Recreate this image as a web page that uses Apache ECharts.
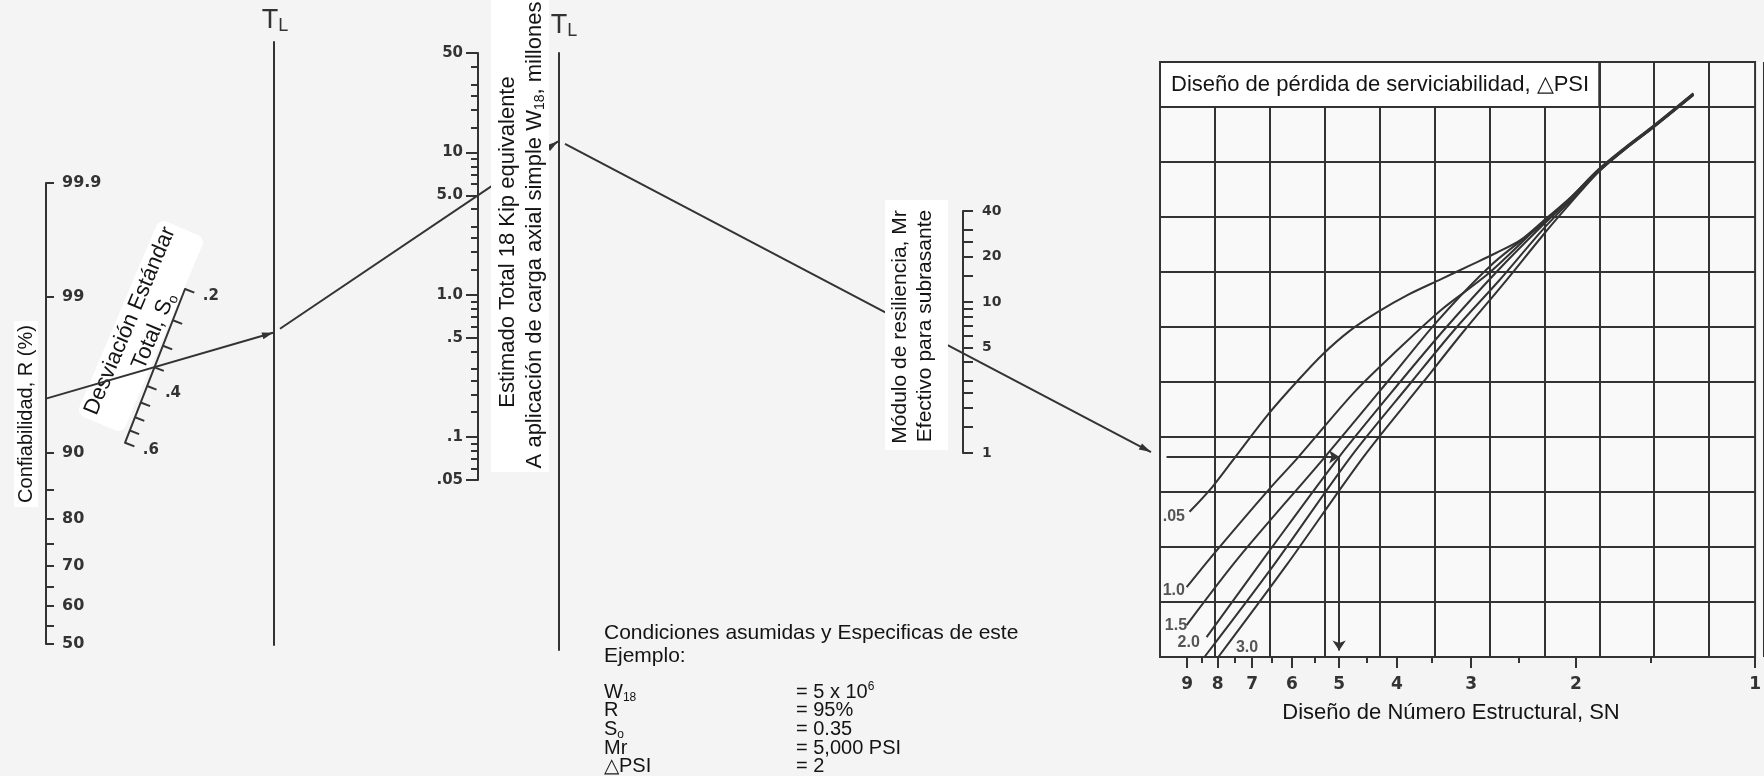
<!DOCTYPE html>
<html>
<head>
<meta charset="utf-8">
<title>Nomograma AASHTO</title>
<script src="https://cdn.jsdelivr.net/npm/echarts@6.0.0/dist/echarts.min.js"></script>
<style>
html,body{margin:0;padding:0;background:#f4f4f4;}
#chart{width:1764px;height:776px;}
</style>
</head>
<body>
<div id="chart"></div>
<script>
// ================= DATA =================
// Confiabilidad, R (%)
const rTicks = [50, 55, 60, 65, 70, 75, 80, 85, 90, 99, 99.9];
const rLabels = [50, 60, 70, 80, 90, 99, 99.9];
const rLabelText = ['50', '60', '70', '80', '90', '99', '99.9'];
// Desviación estándar total, So
const soTicks = [0.2, 0.25, 0.3, 0.35, 0.4, 0.45, 0.5, 0.55, 0.6];
const soLabels = [0.2, 0.4, 0.6];
const soLabelText = ['.2', '.4', '.6'];
// W18 (millones)
const w18Ticks = [0.05, 0.06, 0.07, 0.08, 0.09, 0.1, 0.15, 0.2, 0.25, 0.3, 0.4, 0.5, 0.6, 0.7, 0.8, 0.9,
                  1, 1.5, 2, 2.5, 3, 4, 5, 6, 7, 8, 9, 10, 15, 20, 25, 30, 40, 50];
const w18Labels = [0.05, 0.1, 0.5, 1, 5, 10, 50];
const w18LabelText = ['.05', '.1', '.5', '1.0', '5.0', '10', '50'];
// Mr (ksi)
const mrTicks = [1, 1.5, 2, 2.5, 3, 4, 5, 6, 7, 8, 9, 10, 15, 20, 25, 30, 40];
const mrLabels = [1, 5, 10, 20, 40];
const mrLabelText = ['1', '5', '10', '20', '40'];
// Número estructural SN
const snLabels = [1, 2, 3, 4, 5, 6, 7, 8, 9];
const snMinorTicks = [1.5, 2.5, 3.5, 4.5, 5.5, 6.5, 7.5, 8.5];
// Curvas ΔPSI : [SN, nivel de la retícula]
const psiNames = ['.05', '1.0', '1.5', '2.0', '2.5', '3.0'];
const psi05 = [[8.92,2.64],[8.17,3.09],[7.36,3.73],[6.57,4.42],[5.85,5.04],[5.32,5.51],[4.80,5.93],[4.31,6.27],[3.84,6.58],[3.37,6.87],[3.00,7.13],[2.72,7.35],[2.48,7.58],[2.28,7.91],[2.04,8.36],[1.84,8.85],[1.66,9.25],[1.49,9.64],[1.27,10.25]];
const psi10 = [[9.02,1.27],[8.10,1.89],[6.57,3.04],[5.85,3.64],[4.71,4.82],[3.99,5.58],[3.37,6.31],[2.80,6.98],[2.28,7.89],[2.04,8.35],[1.84,8.84],[1.66,9.24],[1.49,9.63],[1.27,10.24]];
const psi15 = [[9.02,0.58],[7.36,1.82],[5.28,3.64],[4.15,5.00],[3.43,6.09],[2.78,7.12],[2.28,7.87],[2.04,8.34],[1.84,8.83],[1.66,9.23],[1.49,9.62],[1.27,10.23]];
const psi20 = [[8.35,0.36],[6.57,1.91],[5.00,3.64],[3.95,5.00],[3.30,6.00],[2.72,7.00],[2.28,7.84],[2.04,8.33],[1.84,8.82],[1.66,9.22],[1.49,9.61],[1.27,10.22]];
const psi25 = [[8.42,0.00],[6.44,1.67],[4.78,3.64],[3.78,5.00],[3.20,5.95],[2.69,6.85],[2.27,7.78],[2.04,8.30],[1.84,8.81],[1.66,9.22],[1.49,9.61],[1.27,10.22]];
const psi30 = [[7.98,0.00],[6.13,1.67],[4.55,3.64],[3.61,5.00],[3.10,5.90],[2.65,6.78],[2.26,7.70],[2.04,8.26],[1.84,8.80],[1.66,9.22],[1.49,9.62],[1.27,10.22]];
// Posición de las etiquetas de las curvas [SN, nivel]
const psiLabelPos = [[9.48,2.56],[9.48,1.21],[9.40,0.58],[8.95,0.26],null,[7.14,0.18]];
// Ejemplo
const exR = 95, exSo = 0.35, exW18 = 5, exMr = 5, exPSI = 2, exSN = 5, exLevel = 3.64, exStartSN = 9.75;

// ================= HELPERS =================
const lg = Math.log10;
function normCdf(z) {
  const x = Math.abs(z) / Math.SQRT2, t = 1 / (1 + 0.3275911 * x);
  const e = 1 - t * (0.254829592 + t * (-0.284496736 + t * (1.421413741 + t * (-1.453152027 + t * 1.061405429)))) * Math.exp(-x * x);
  return z >= 0 ? 0.5 * (1 + e) : 0.5 * (1 - e);
}
function zOf(p) {
  let lo = -5, hi = 5;
  for (let i = 0; i < 60; i++) { const m = (lo + hi) / 2; if (normCdf(m) < p / 100) lo = m; else hi = m; }
  return (lo + hi) / 2;
}
function labeller(vals, texts) {
  return function (v) {
    let bi = 0, bd = Infinity;
    vals.forEach((x, i) => { const d = Math.abs(x - v); if (d < bd) { bd = d; bi = i; } });
    return texts[bi];
  };
}

const C = '#333333';
const TXT = '#141414';
const scaleFont = { fontFamily: 'DejaVu Sans', fontWeight: 'bold', color: C };
const lineSt = { color: C, width: 2 };
const hiddenX = (g) => ({ gridIndex: g, type: 'value', min: 0, max: 1, show: false });
const plainLine = (g) => ({ gridIndex: g, type: 'value', min: 0, max: 1, position: 'left',
  axisLine: { show: true, lineStyle: lineSt }, axisTick: { show: false }, axisLabel: { show: false }, splitLine: { show: false } });

const rZ = rTicks.map(zOf), rLZ = rLabels.map(zOf);
const snGridMax = 10.818;

const curveSets = [psi05, psi10, psi15, psi20, psi25, psi30];
const curveSeries = curveSets.map((arr, i) => ({
  type: 'line', name: psiNames[i], xAxisIndex: 5, yAxisIndex: 6,
  data: arr.map(p => [lg(p[0]), p[1]]),
  smooth: 0.3, symbol: 'none', silent: true, z: 3,
  lineStyle: { color: C, width: 2 }
}));
const labelData = [];
psiLabelPos.forEach((p, i) => {
  if (p) labelData.push({ value: [lg(p[0]), p[1]], name: psiNames[i] });
});

const option = {
  backgroundColor: '#f4f4f4',
  animation: false,
  textStyle: { fontFamily: 'Liberation Sans' },
  grid: [
    { left: 46, top: 183, width: 1, height: 461 },
    { left: 274, top: 42, width: 1, height: 603 },
    { left: 478, top: 53, width: 1, height: 427 },
    { left: 559, top: 53, width: 1, height: 597 },
    { left: 963, top: 211, width: 1, height: 242 },
    { left: 1160, top: 62, width: 602, height: 595, show: true, borderColor: C, borderWidth: 2 },
    { left: 1160, top: 62, width: 608, height: 595, show: false }
  ],
  xAxis: [
    hiddenX(0), hiddenX(1), hiddenX(2), hiddenX(3), hiddenX(4),
    { gridIndex: 5, type: 'value', min: 0, max: 1, inverse: true, position: 'bottom',
      axisLine: { show: false },
      axisTick: { show: true, length: 11, customValues: snLabels.map(lg), lineStyle: lineSt },
      axisLabel: { show: true, margin: 19, customValues: snLabels.map(lg), formatter: labeller(snLabels.map(lg), snLabels.map(String)), fontSize: 17, ...scaleFont },
      splitLine: { show: false } },
    { gridIndex: 5, type: 'value', min: 0, max: 1, inverse: true, position: 'bottom',
      axisLine: { show: false },
      axisTick: { show: true, length: 6, customValues: snMinorTicks.map(lg), lineStyle: lineSt },
      axisLabel: { show: false }, splitLine: { show: false } },
    { gridIndex: 6, type: 'value', min: 0, max: 11, interval: 1, position: 'top',
      axisLine: { show: false }, axisTick: { show: false }, axisLabel: { show: false },
      splitLine: { show: true, lineStyle: { color: C, width: 2 } } }
  ],
  yAxis: [
    { gridIndex: 0, type: 'value', min: zOf(50), max: zOf(99.9), position: 'left',
      axisLine: { show: true, lineStyle: lineSt },
      axisTick: { show: true, inside: true, length: 8, customValues: rZ, lineStyle: lineSt },
      axisLabel: { show: true, inside: true, margin: 16, customValues: rLZ, formatter: labeller(rLZ, rLabelText), fontSize: 16, ...scaleFont },
      splitLine: { show: false } },
    plainLine(1),
    { gridIndex: 2, type: 'value', min: lg(0.05), max: lg(50), position: 'left',
      axisLine: { show: true, lineStyle: lineSt },
      axisTick: { show: true, length: 12, customValues: w18Labels.map(lg), lineStyle: lineSt },
      axisLabel: { show: true, margin: 15, customValues: w18Labels.map(lg), formatter: labeller(w18Labels.map(lg), w18LabelText), fontSize: 15, ...scaleFont },
      splitLine: { show: false } },
    { gridIndex: 2, type: 'value', min: lg(0.05), max: lg(50), position: 'left',
      axisLine: { show: false },
      axisTick: { show: true, length: 7, customValues: w18Ticks.map(lg), lineStyle: lineSt },
      axisLabel: { show: false }, splitLine: { show: false } },
    plainLine(3),
    { gridIndex: 4, type: 'value', min: lg(1), max: lg(40), position: 'left',
      axisLine: { show: true, lineStyle: lineSt },
      axisTick: { show: true, inside: true, length: 10, customValues: mrTicks.map(lg), lineStyle: lineSt },
      axisLabel: { show: true, inside: true, margin: 19, customValues: mrLabels.map(lg), formatter: labeller(mrLabels.map(lg), mrLabelText), fontSize: 14, ...scaleFont },
      splitLine: { show: false } },
    { gridIndex: 5, type: 'value', min: 0, max: snGridMax, interval: 1, position: 'left',
      axisLine: { show: false }, axisTick: { show: false }, axisLabel: { show: false },
      splitLine: { show: true, lineStyle: { color: C, width: 2 } } },
    { gridIndex: 6, type: 'value', min: 0, max: snGridMax, show: false }
  ],
  polar: { center: [185, 289], radius: [0, 165] },
  angleAxis: { polarIndex: 0, type: 'value', min: 0, max: 360, startAngle: 248.7, show: false },
  radiusAxis: { polarIndex: 0, type: 'value', min: lg(0.2), max: lg(0.6), z: 20,
    axisLine: { show: true, lineStyle: lineSt },
    axisTick: { show: true, length: 10, customValues: soTicks.map(lg), lineStyle: lineSt },
    axisLabel: { show: true, margin: 19, customValues: soLabels.map(lg), formatter: labeller(soLabels.map(lg), soLabelText), fontSize: 15, ...scaleFont },
    splitLine: { show: false }, splitArea: { show: false } },
  series: [
    ...curveSeries,
    { type: 'scatter', xAxisIndex: 5, yAxisIndex: 6, data: labelData, symbolSize: 1, silent: true, z: 4,
      itemStyle: { color: 'rgba(0,0,0,0)' },
      label: { show: true, position: 'inside', formatter: p => p.name, color: '#2a2a2a', fontFamily: 'Liberation Sans', fontWeight: 'bold', fontSize: 16 } },
    { type: 'lines', coordinateSystem: 'cartesian2d', xAxisIndex: 5, yAxisIndex: 6, silent: true, z: 5,
      symbol: ['none', 'arrow'], symbolSize: 10,
      lineStyle: { color: C, width: 2, opacity: 1 },
      data: [
        { coords: [[lg(exStartSN), exLevel], [lg(exSN), exLevel]] },
        { coords: [[lg(exSN), exLevel], [lg(exSN), 0.12]] }
      ] },
    { type: 'line', xAxisIndex: 7, yAxisIndex: 7, data: [[0, 10.4]], symbol: 'none', silent: true, z: 6,
      markArea: { silent: true,
        itemStyle: { color: '#ffffff', borderColor: C, borderWidth: 2 },
        label: { show: true, position: 'insideLeft', distance: 12, color: TXT, fontFamily: 'Liberation Sans', fontSize: 22,
          formatter: 'Diseño de pérdida de serviciabilidad, △PSI' },
        data: [[{ coord: [0, 10] }, { coord: [8, snGridMax] }]] } }
  ],
  graphic: { elements: [] }
};

// ---------- static texts ----------
const T = (id, x, y, text, extra, rot, z) => ({ id, type: 'text', x, y, rotation: rot || 0, z: (z === undefined ? 100 : z),
  style: Object.assign({ text, fill: TXT, fontFamily: 'Liberation Sans', fontSize: 22, align: 'center', verticalAlign: 'middle' }, extra || {}) });
const mkSub = (fs) => ({ a: { fontSize: fs, fontFamily: 'Liberation Sans', fill: TXT, lineHeight: fs + 3 },
                         b: { fontSize: Math.round(fs * 0.62), fontFamily: 'Liberation Sans', fill: TXT, verticalAlign: 'bottom', lineHeight: Math.round(fs * 0.62) + 1 },
                         p: { fontSize: Math.round(fs * 0.62), fontFamily: 'Liberation Sans', fill: TXT, verticalAlign: 'top', lineHeight: Math.round(fs * 0.62) + 1 } });
const tlRich = { t: { fontSize: 27, fontFamily: 'Liberation Sans', fill: C, lineHeight: 28 },
                 l: { fontSize: 18, fontFamily: 'Liberation Sans', fill: C, verticalAlign: 'bottom', lineHeight: 18 } };
const rot67 = 67 * Math.PI / 180;
const condY = [633, 656, 692, 710, 729, 748, 766];
const els = [
  { id: 'gridBg', type: 'rect', z: -2, shape: { x: 1160, y: 62, width: 602, height: 595 }, style: { fill: '#f9f9f9' } },
  { id: 'boxW', type: 'rect', z: 90, shape: { x: 491, y: 0, width: 58, height: 472 }, style: { fill: '#ffffff' } },
  { id: 'boxM', type: 'rect', z: 90, shape: { x: 885, y: 200, width: 63, height: 250 }, style: { fill: '#ffffff' } },
  T('tR', 26, 414, 'Confiabilidad, R (%)', { fontSize: 20, backgroundColor: '#ffffff', padding: [2, 4] }, Math.PI / 2),
  { id: 'bandS', type: 'rect', z: -1, x: 141, y: 326, rotation: rot67,
    shape: { x: -106, y: -25, width: 212, height: 50, r: 8 }, style: { fill: '#ffffff' } },
  T('tS1', 130, 321, 'Desviación Estándar', { fontSize: 22 }, rot67, -1),
  T('tS2', 154, 331, '{a|Total, S}{b|o}', { rich: mkSub(22) }, rot67, -1),
  T('tTL1', 275, 21, '{t|T}{l|L}', { rich: tlRich }),
  T('tTL2', 564, 26, '{t|T}{l|L}', { rich: tlRich }),
  T('tW1', 508, 242, 'Estimado Total 18 Kip equivalente', {}, Math.PI / 2),
  T('tW2', 535, 235, '{a|A aplicación de carga axial simple W}{b|18}{a|, millones}', { rich: mkSub(22) }, Math.PI / 2),
  T('tM1', 900, 327, 'Módulo de resiliencia, Mr', { fontSize: 21 }, Math.PI / 2),
  T('tM2', 925, 326, 'Efectivo para subrasante', { fontSize: 21 }, Math.PI / 2),
  T('tSN', 1451, 713, 'Diseño de Número Estructural, SN'),
  T('c0', 604, condY[0], 'Condiciones asumidas y Especificas de este', { align: 'left', fontSize: 21 }),
  T('c1', 604, condY[1], 'Ejemplo:', { align: 'left', fontSize: 21 }),
  T('c2', 604, condY[2], '{a|W}{b|18}', { align: 'left', rich: mkSub(20) }),
  T('c3', 604, condY[3], '{a|R}', { align: 'left', rich: mkSub(20) }),
  T('c4', 604, condY[4], '{a|S}{b|o}', { align: 'left', rich: mkSub(20) }),
  T('c5', 604, condY[5], '{a|Mr}', { align: 'left', rich: mkSub(20) }),
  T('c6', 604, condY[6], '{a|△PSI}', { align: 'left', rich: mkSub(20) }),
  T('v2', 796, condY[2], '{a|= 5 x 10}{p|6}', { align: 'left', rich: mkSub(20) }),
  T('v3', 796, condY[3], '{a|= 95%}', { align: 'left', rich: mkSub(20) }),
  T('v4', 796, condY[4], '{a|= 0.35}', { align: 'left', rich: mkSub(20) }),
  T('v5', 796, condY[5], '{a|= 5,000 PSI}', { align: 'left', rich: mkSub(20) }),
  T('v6', 796, condY[6], '{a|= ' + exPSI + '}', { align: 'left', rich: mkSub(20) })
];
option.graphic.elements = els;

const chart = echarts.init(document.getElementById('chart'), null, { renderer: 'canvas', width: 1764, height: 776 });
chart.setOption(option);

// ---------- example path across the scales (pixel positions from the axes) ----------
function arrow(id, tip, from, len, half) {
  const dx = tip[0] - from[0], dy = tip[1] - from[1], L = Math.hypot(dx, dy);
  const ux = dx / L, uy = dy / L, bx = tip[0] - ux * len, by = tip[1] - uy * len;
  return { id, type: 'polygon', z: 52, shape: { points: [tip, [bx - uy * half, by + ux * half], [bx + uy * half, by - ux * half]] }, style: { fill: C } };
}
function seg(id, a, b) {
  return { id, type: 'line', z: 50, shape: { x1: a[0], y1: a[1], x2: b[0], y2: b[1] }, style: { stroke: C, lineWidth: 2 } };
}
const pR = chart.convertToPixel({ xAxisIndex: 0, yAxisIndex: 0 }, [0, zOf(exR)]);
const pSo = chart.convertToPixel({ polarIndex: 0 }, [lg(exSo), 0]);
const xT1 = chart.convertToPixel({ xAxisIndex: 1, yAxisIndex: 1 }, [0, 0])[0];
const yT1 = pR[1] + (pSo[1] - pR[1]) * (xT1 - pR[0]) / (pSo[0] - pR[0]);
const pW = chart.convertToPixel({ xAxisIndex: 2, yAxisIndex: 2 }, [0, lg(exW18)]);
const xT2 = chart.convertToPixel({ xAxisIndex: 3, yAxisIndex: 4 }, [0, 0])[0];
const k1 = (pW[1] - yT1) / (pW[0] - xT1);
const yT2 = yT1 + k1 * (xT2 - xT1);
const pG = chart.convertToPixel({ xAxisIndex: 5, yAxisIndex: 6 }, [lg(10), exLevel]);
const k2 = (pG[1] - yT2) / (pG[0] - xT2);

const t1 = [xT1 - 1, yT1];
const a2 = [xT1 + 6, yT1 + k1 * 6], t2 = [xT2 - 1, yT2 - k1 * 1];
const a3 = [xT2 + 6, yT2 + k2 * 6], t3 = [pG[0] - 9, pG[1] - k2 * 9];
chart.setOption({ graphic: { elements: [
  seg('s1', pR, t1), arrow('h1', t1, pR, 11, 3.5),
  seg('s2', a2, t2), arrow('h2', t2, a2, 12, 3.5),
  seg('s3', a3, t3), arrow('h3', t3, a3, 12, 3.5)
] } });
</script>
</body>
</html>
